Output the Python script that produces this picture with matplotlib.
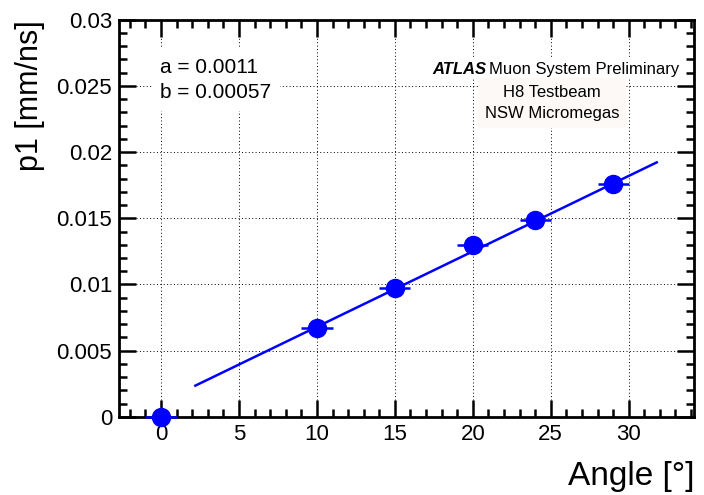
import numpy as np
import matplotlib
matplotlib.use("Agg")
import matplotlib.pyplot as plt
from matplotlib.ticker import MultipleLocator

plt.rcParams['font.family'] = ['Liberation Sans', 'DejaVu Sans']

# data
angle = [0, 10, 15, 20, 24, 29]
p1 = [0.0, 0.0067, 0.0097, 0.0130, 0.0149, 0.0176]
angle_err = [1, 1, 1, 1, 1, 1]
p1_err = [0.0001, 0.0001, 0.0001, 0.0001, 0.0001, 0.0001]
fit_a = 0.0011
fit_b = 0.00057
fit_range = [2.2, 31.8]

fig = plt.figure(figsize=(7.04, 4.95), dpi=100)
ax = fig.add_axes([0.169, 0.158, 0.817, 0.802])

# grid
ax.grid(True, which='major', color='black', linestyle=(0, (1, 2.5)), linewidth=0.7)
ax.set_axisbelow(True)

# fit line
xf = np.linspace(fit_range[0], fit_range[1], 50)
ax.plot(xf, fit_a + fit_b * xf, color='blue', lw=1.8, zorder=3)

# points
ax.errorbar(angle, p1, xerr=angle_err, yerr=p1_err, fmt='o', color='blue',
            ms=13, elinewidth=1.8, capsize=0, zorder=4, clip_on=False)

ax.set_xlim(-2.7, 34.2)
ax.set_ylim(0, 0.03)
ax.xaxis.set_major_locator(MultipleLocator(5))
ax.xaxis.set_minor_locator(MultipleLocator(1))
ax.yaxis.set_major_locator(MultipleLocator(0.005))
ax.yaxis.set_minor_locator(MultipleLocator(0.001))
ax.set_yticks([0, 0.005, 0.01, 0.015, 0.02, 0.025, 0.03])
ax.set_yticklabels(['0', '0.005', '0.01', '0.015', '0.02', '0.025', '0.03'])

ax.tick_params(which='both', direction='in', top=True, right=True,
               labelsize=16, width=1.8)
ax.tick_params(which='major', length=12, pad=5)
ax.tick_params(which='minor', length=6)
for s in ax.spines.values():
    s.set_linewidth(2)

ax.set_ylabel('p1 [mm/ns]', fontsize=22, loc='top', labelpad=8)
ax.set_xlabel('Angle [°]', fontsize=24, loc='right', labelpad=12)

# fit parameters
ax.text(0.072, 0.905, 'a = 0.0011\nb = 0.00057', transform=ax.transAxes,
        fontsize=15, va='top', ha='left', linespacing=1.45,
        bbox=dict(facecolor='white', edgecolor='none', pad=6))

# labels
ax.text(0.544, 0.876, 'ATLAS', transform=ax.transAxes, fontsize=12,
        fontweight='bold', style='italic', ha='left', va='center',
        bbox=dict(facecolor='white', edgecolor='none', pad=2))
ax.text(0.643, 0.876, 'Muon System Preliminary', transform=ax.transAxes,
        fontsize=12, ha='left', va='center',
        bbox=dict(facecolor='white', edgecolor='none', pad=2))
ax.text(0.753, 0.79, 'H8 Testbeam\nNSW Micromegas', transform=ax.transAxes,
        fontsize=12, ha='center', va='center', linespacing=1.45,
        bbox=dict(facecolor='#fcf9f7', edgecolor='none', pad=5))

fig.savefig('out.png', dpi=100)
